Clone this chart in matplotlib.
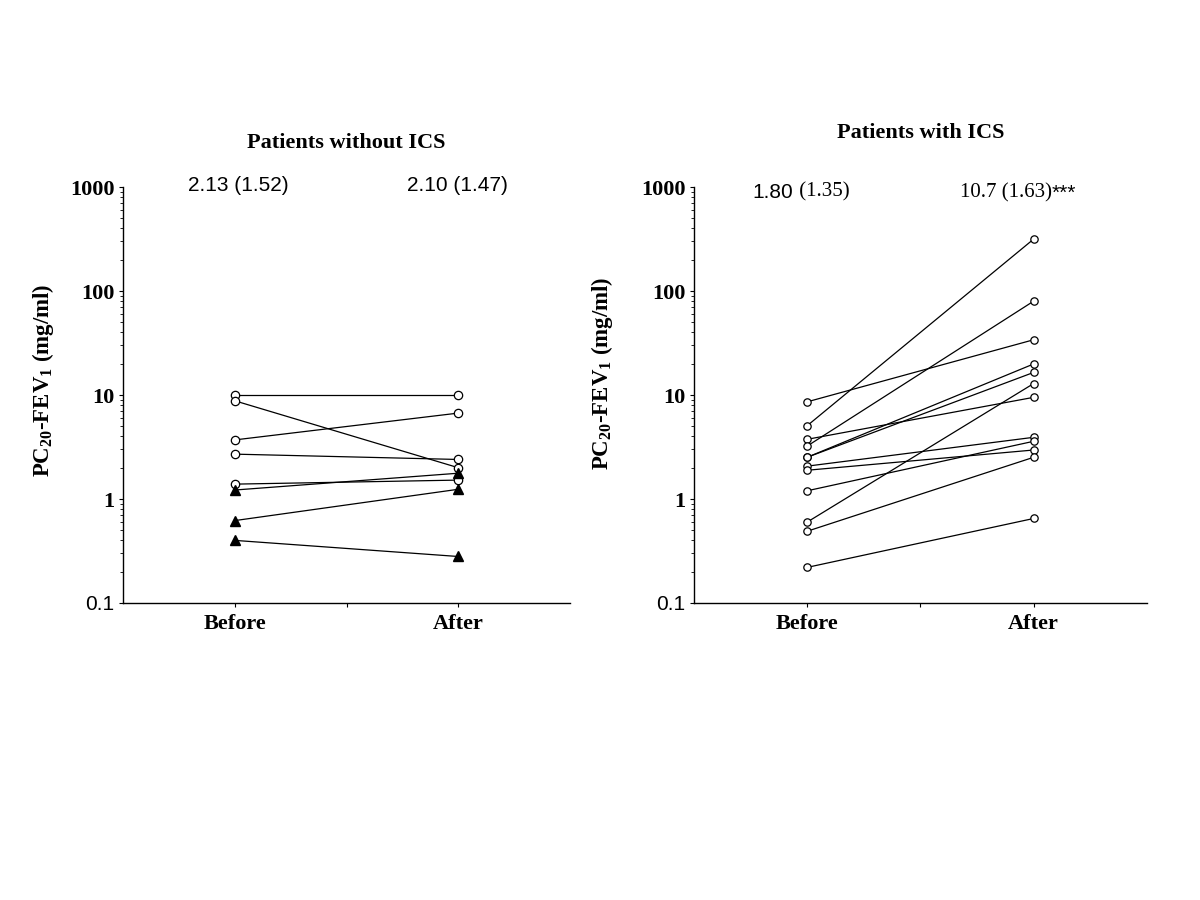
import matplotlib
matplotlib.use("Agg")
import matplotlib.pyplot as plt
from matplotlib.ticker import LogLocator, NullFormatter

plt.rcParams['mathtext.default'] = 'regular'

SERIF = 'Liberation Serif'
SANS = 'Liberation Sans'

# data
groups = ["Before", "After"]
yticks = [0.1, 1, 10, 100, 1000]
ytick_labels = ["0.1", "1", "10", "100", "1000"]

left_before = [10.0, 8.8, 3.7, 2.7, 1.39, 1.22, 0.62, 0.40]
left_after = [10.0, 2.0, 6.7, 2.4, 1.52, 1.77, 1.24, 0.28]
left_marker = ['o', 'o', 'o', 'o', 'o', '^', '^', '^']

right_before = [8.6, 5.07, 3.75, 3.23, 2.52, 2.52, 2.07, 1.89, 1.20, 0.60, 0.49, 0.22]
right_after = [34, 316, 9.5, 80, 19.9, 16.5, 3.92, 2.96, 3.59, 12.9, 2.52, 0.65]

titles = ["Patients without ICS", "Patients with ICS"]
# each summary: list of (text, font) pieces
left_summary = [[("2.13 (1.52)", SANS)], [("2.10 (1.47)", SANS)]]
right_summary = [[("1.80", SANS), (" (1.35)", SERIF)],
                 [("10.7 (1.63)", SERIF), ("***", SANS)]]

fig = plt.figure(figsize=(12, 9), dpi=100)
ax1 = fig.add_axes([0.1025, 0.33, 0.3725, 0.4622])
ax2 = fig.add_axes([0.5783, 0.33, 0.3775, 0.4622])


def style(ax, title, title_pad, label_x, label_y):
    ax.set_yscale('log')
    ax.set_ylim(0.1, 1000)
    ax.set_xlim(0.5, 2.5)
    ax.spines['top'].set_visible(False)
    ax.spines['right'].set_visible(False)
    ax.spines['left'].set_linewidth(1.0)
    ax.spines['bottom'].set_linewidth(1.0)
    ax.set_xticks([1, 1.5, 2])
    ax.set_xticklabels([groups[0], "", groups[1]], fontfamily=SERIF,
                       fontweight='bold', fontsize=16)
    ax.tick_params(axis='x', length=3, width=0.8, pad=5)
    ax.set_yticks(yticks)
    ax.set_yticklabels(ytick_labels, fontfamily=SERIF, fontweight='bold', fontsize=16)
    lab0 = ax.get_yticklabels()[0]
    lab0.set_fontfamily(SANS)
    lab0.set_fontweight('normal')
    lab0.set_fontsize(15)
    ax.yaxis.set_minor_locator(LogLocator(base=10, subs=range(2, 10), numticks=20))
    ax.yaxis.set_minor_formatter(NullFormatter())
    ax.tick_params(axis='y', which='major', length=3, width=0.8, pad=3)
    ax.tick_params(axis='y', which='minor', length=2, width=0.6)
    ax.set_ylabel("PC$_{20}$-FEV$_{1}$ (mg/ml)", fontfamily=SERIF,
                  fontweight='bold', fontsize=16.5)
    ax.yaxis.set_label_coords(label_x, label_y)
    ax.set_title(title, fontfamily=SERIF, fontweight='bold', fontsize=16,
                 pad=title_pad)


def summary(ax, pieces, x, y):
    prev = None
    for txt, font in pieces:
        if prev is None:
            prev = ax.text(x, y, txt, transform=ax.transAxes, ha='left',
                           va='baseline', fontfamily=font, fontsize=15)
        else:
            prev = ax.annotate(txt, xy=(1, 0), xycoords=prev, ha='left',
                               va='bottom', fontfamily=font, fontsize=15)


style(ax1, titles[0], 28, -0.150, 0.536)
style(ax2, titles[1], 35, -0.174, 0.553)

for b, a, m in zip(left_before, left_after, left_marker):
    if m == 'o':
        ax1.plot([1, 2], [b, a], color='black', lw=0.9, marker='o', ms=6,
                 mfc='white', mec='black', mew=0.9)
    else:
        ax1.plot([1, 2], [b, a], color='black', lw=0.9, marker='^', ms=6.5,
                 mfc='black', mec='black')

for b, a in zip(right_before, right_after):
    ax2.plot([1, 2], [b, a], color='black', lw=0.9, marker='o', ms=5.3,
             mfc='white', mec='black', mew=0.9)

summary(ax1, left_summary[0], 0.145, 0.99)
summary(ax1, left_summary[1], 0.635, 0.99)
summary(ax2, right_summary[0], 0.130, 0.974)
summary(ax2, right_summary[1], 0.587, 0.974)

fig.savefig("out.png", dpi=100)
